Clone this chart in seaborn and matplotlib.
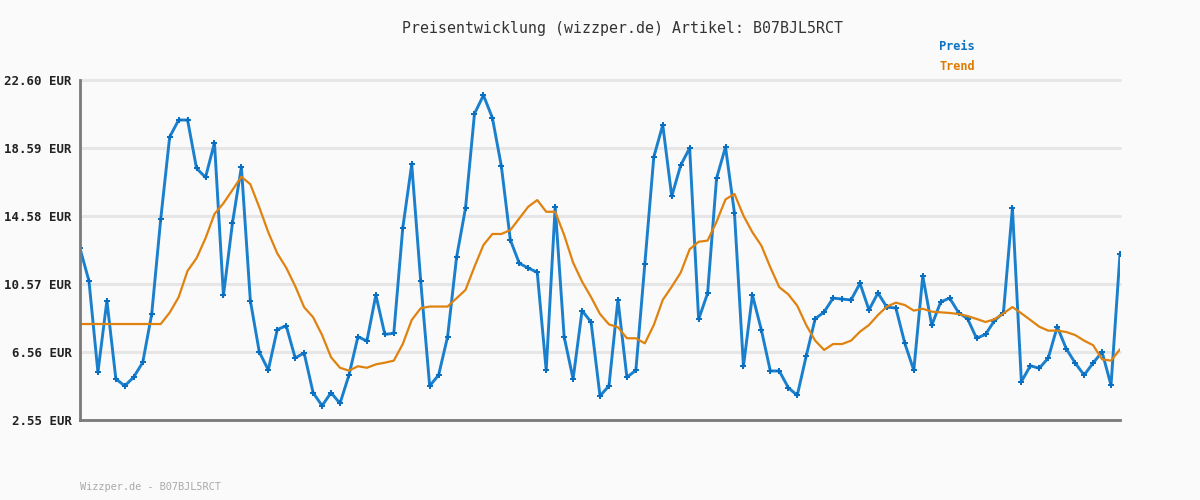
import matplotlib
matplotlib.use("Agg")
import matplotlib.pyplot as plt
import pandas as pd
import seaborn as sns

# ---- data ----
preis = [12.67, 10.75, 5.36, 9.59, 4.97, 4.56, 5.09, 5.95, 8.80, 14.38,
         19.24, 20.24, 20.24, 17.39, 16.86, 18.90, 9.90, 14.15, 17.47, 9.59,
         6.56, 5.50, 7.88, 8.11, 6.21, 6.50, 4.16, 3.39, 4.16, 3.53,
         5.20, 7.46, 7.21, 9.92, 7.60, 7.66, 13.87, 17.63, 10.75, 4.56,
         5.20, 7.46, 12.14, 15.05, 20.61, 21.70, 20.36, 17.51, 13.16, 11.79,
         11.51, 11.26, 5.48, 15.13, 7.46, 4.97, 9.00, 8.33, 3.97, 4.56,
         9.63, 5.07, 5.48, 11.75, 18.06, 19.95, 15.74, 17.57, 18.59, 8.49,
         10.02, 16.80, 18.65, 14.74, 5.72, 9.92, 7.86, 5.44, 5.44, 4.46,
         4.00, 6.32, 8.52, 8.92, 9.74, 9.68, 9.63, 10.61, 9.04, 10.04,
         9.20, 9.16, 7.07, 5.48, 11.04, 8.13, 9.51, 9.74, 8.88, 8.52,
         7.37, 7.60, 8.41, 8.88, 15.05, 4.81, 5.75, 5.60, 6.21, 8.05,
         6.76, 5.91, 5.20, 5.91, 6.56, 4.60, 12.34]
trend = [8.21, 8.21, 8.21, 8.21, 8.21, 8.21, 8.21, 8.21, 8.21, 8.21,
         8.88, 9.79, 11.35, 12.09, 13.27, 14.70, 15.33, 16.11, 16.90, 16.45,
         15.09, 13.62, 12.38, 11.53, 10.45, 9.20, 8.61, 7.56, 6.25, 5.63,
         5.46, 5.72, 5.63, 5.83, 5.93, 6.05, 7.03, 8.45, 9.14, 9.24,
         9.24, 9.24, 9.73, 10.22, 11.59, 12.87, 13.52, 13.52, 13.75, 14.44,
         15.13, 15.52, 14.83, 14.83, 13.46, 11.83, 10.71, 9.80, 8.80, 8.19,
         8.02, 7.37, 7.37, 7.07, 8.15, 9.63, 10.41, 11.24, 12.62, 13.06,
         13.13, 14.24, 15.56, 15.88, 14.60, 13.62, 12.83, 11.55, 10.38, 9.96,
         9.29, 8.15, 7.23, 6.68, 7.03, 7.03, 7.23, 7.76, 8.15, 8.74,
         9.24, 9.47, 9.33, 9.00, 9.11, 8.94, 8.90, 8.86, 8.80, 8.68,
         8.51, 8.33, 8.49, 8.84, 9.21, 8.84, 8.45, 8.05, 7.82, 7.82,
         7.74, 7.56, 7.23, 6.96, 6.13, 6.05, 6.72]
tick_values = [2.55, 6.56, 10.57, 14.58, 18.59, 22.60]
tick_labels = [f"{v:.2f} EUR" for v in tick_values]
series_names = ["Preis", "Trend"]
title = "Preisentwicklung (wizzper.de) Artikel: B07BJL5RCT"
footer = "Wizzper.de - B07BJL5RCT"

# ---- style ----
sns.set_style("white")
plt.rcParams['font.family'] = ['DejaVu Sans Mono', 'DejaVu Sans']

BG = '#fafafa'
BLUE = '#1a80cd'
BLUE_DARK = '#0a6fc0'
ORANGE = '#e0820f'

W, H = 1200, 500
fig = plt.figure(figsize=(12, 5), dpi=100, facecolor=BG)
ax = fig.add_axes([80 / W, 80 / H, 1040 / W, 340 / H])
ax.set_facecolor(BG)

df = pd.DataFrame({'idx': list(range(len(preis))), 'Preis': preis, 'Trend': trend})

sns.lineplot(data=df, x='idx', y='Preis', ax=ax, color=BLUE, linewidth=2.1,
             marker='P', markersize=4.5, markeredgewidth=0,
             markerfacecolor=BLUE_DARK, zorder=3)
sns.lineplot(data=df, x='idx', y='Trend', ax=ax, color=ORANGE, linewidth=1.6,
             zorder=4)

ax.set_xlim(0, len(preis) - 1)
ax.set_ylim(tick_values[0], tick_values[-1])
ax.set_yticks(tick_values)
ax.set_yticklabels(tick_labels, fontsize=8.9, fontweight='bold', color='#222222')
ax.set_xticks([])
ax.set_xlabel('')
ax.set_ylabel('')
ax.tick_params(axis='y', length=0, pad=6)

ax.yaxis.grid(True, color='#e6e6e6', linewidth=2.2)
ax.xaxis.grid(False)
ax.set_axisbelow(True)
for g in ax.get_ygridlines():
    g.set_clip_on(False)

for s in ['top', 'right']:
    ax.spines[s].set_visible(False)
ax.spines['left'].set_color('#7a7a7a')
ax.spines['left'].set_linewidth(2.0)
ax.spines['bottom'].set_color('#7a7a7a')
ax.spines['bottom'].set_linewidth(2.0)
ax.spines['left'].set_zorder(5)
ax.spines['bottom'].set_zorder(5)

if ax.get_legend() is not None:
    ax.get_legend().remove()

fig.text(623 / W, 1 - 28 / H, title, ha='center', va='center',
         fontsize=10.7, color='#333333')
fig.text(939 / W, 1 - 47 / H, series_names[0], ha='left', va='center',
         fontsize=8.6, fontweight='bold', color='#0a72c2')
fig.text(939 / W, 1 - 67 / H, series_names[1], ha='left', va='center',
         fontsize=8.6, fontweight='bold', color='#dd7a00')
fig.text(80 / W, 1 - 487 / H, footer, ha='left', va='center',
         fontsize=7.4, color='#aaaaaa')

fig.savefig('out.png', dpi=100, facecolor=BG)
